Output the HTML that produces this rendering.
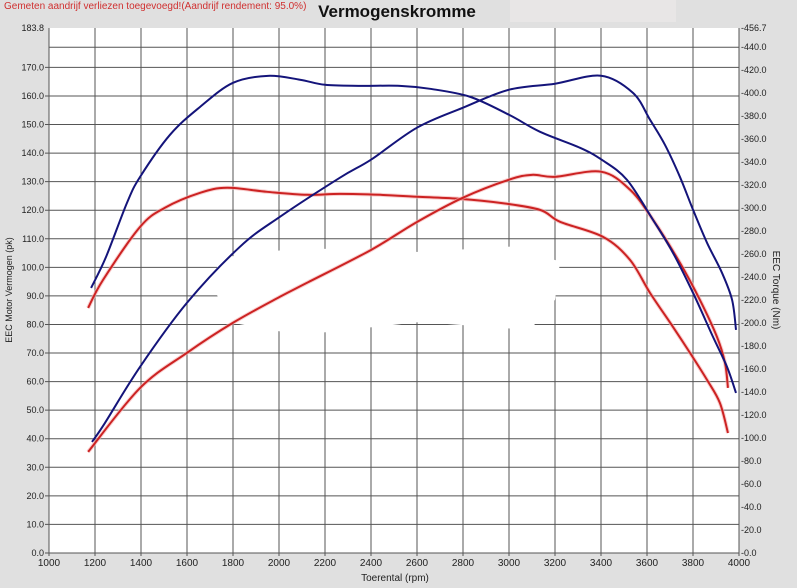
<!DOCTYPE html>
<html><head><meta charset="utf-8"><style>
body{margin:0;background:#e0e0e0;}
svg{display:block;font-family:"Liberation Sans",sans-serif;}
</style></head><body>
<svg id="chart" width="797" height="588">
<rect x="0" y="0" width="797" height="588" fill="#e0e0e0"/>
<rect x="510" y="0" width="166" height="22" fill="#e8e6e6"/>
<text x="4" y="9" font-size="10" fill="#d03030">Gemeten aandrijf verliezen toegevoegd!(Aandrijf rendement: 95.0%)</text>
<text x="397" y="17" font-size="17" font-weight="bold" text-anchor="middle" fill="#111">Vermogenskromme</text>
<rect x="49" y="28" width="690" height="525" fill="#fff"/>
<g id="grid"></g>
<polygon points="218,258 300,248 420,252 520,246 560,262 555,300 530,330 420,322 300,335 228,322 215,290" fill="#fff"/>
<g id="series"></g>
<g id="axes"></g>
<text transform="translate(12,290) rotate(-90)" font-size="9" text-anchor="middle" fill="#222">EEC Motor Vermogen (pk)</text>
<text transform="translate(773,290) rotate(90)" font-size="10" text-anchor="middle" fill="#222">EEC Torque (Nm)</text>
<text x="395" y="581" font-size="10" text-anchor="middle" fill="#222">Toerental (rpm)</text>
</svg>
<script>
const xTicks=[1000,1200,1400,1600,1800,2000,2200,2400,2600,2800,3000,3200,3400,3600,3800,4000];
const leftTicks=[0,10,20,30,40,50,60,70,80,90,100,110,120,130,140,150,160,170];
const rightTicks=[0,20,40,60,80,100,120,140,160,180,200,220,240,260,280,300,320,340,360,380,400,420,440];
const leftMax=183.8, rightMax=456.7;
const torqueBlueRpm=[1183,1248,1339,1396,1526,1657,1800,1952,2091,2200,2352,2526,2657,2830,3000,3135,3309,3404,3513,3626,3713,3800,3887,3948,3987];
const torqueBlueNm=[230.6,257.6,304.6,327.2,363.8,388.1,409.0,415.1,411.7,407.3,406.4,406.4,403.8,396.9,381.2,366.4,352.5,342.0,324.6,289.8,261.1,226.3,188.0,161.9,139.2];
const powerBlueRpm=[1187,1243,1396,1600,1830,2004,2265,2400,2600,2800,3000,3200,3400,3539,3613,3678,3743,3800,3861,3926,3970,3987];
const powerBlueVal=[38.9,45.5,65.2,87.6,107.2,117.7,131.4,137.7,148.9,155.9,162.2,164.3,167.1,161.1,151.7,142.9,131.7,120.2,108.6,98.1,88.6,78.1];
const torqueRedRpm=[1170,1235,1396,1504,1657,1774,1948,2122,2265,2439,2613,2787,2961,3135,3222,3409,3526,3613,3713,3787,3861,3917,3952];
const torqueRedNm=[213.2,237.6,283.7,300.3,313.3,317.7,314.2,311.6,312.4,311.6,309.8,308.1,304.6,298.5,288.1,275.0,255.0,226.3,196.7,174.1,150.6,130.5,104.4];
const powerRedRpm=[1170,1396,1600,1800,2004,2122,2400,2600,2800,3000,3100,3200,3400,3526,3626,3743,3830,3904,3939,3952];
const powerRedVal=[35.4,57.8,70.1,80.6,89.7,94.6,106.1,115.9,124.4,130.7,132.4,131.7,133.5,127.2,116.7,101.6,88.6,75.7,66.6,57.8];

const X0=49,X1=739,Y0=553,Y1=28;
const sx=r=>X0+(r-1000)/3000*(X1-X0);
const syL=v=>Y0-v/leftMax*(Y0-Y1);
const syR=v=>Y0-v/rightMax*(Y0-Y1);
const NS="http://www.w3.org/2000/svg";
function mk(tag,attrs,parent){const e=document.createElementNS(NS,tag);for(const k in attrs)e.setAttribute(k,attrs[k]);parent.appendChild(e);return e;}
const grid=document.getElementById('grid'),axes=document.getElementById('axes'),series=document.getElementById('series');
xTicks.forEach(t=>{
  const l=mk('line',{x1:sx(t),x2:sx(t),y1:Y1,y2:Y0+3,stroke:'#555','stroke-width':1},grid);
  
  
  const tx=mk('text',{x:sx(t),y:566,'font-size':10,'text-anchor':'middle',fill:'#222'},axes);
  tx.textContent=t;
  
  
});
leftTicks.forEach(t=>{
  const l=mk('line',{x1:X0-4,x2:X1,y1:syL(t),y2:syL(t),stroke:'#555','stroke-width':1},grid);
  
  
  const tx=mk('text',{x:X0-5,y:syL(t)+3,'font-size':9,'text-anchor':'end',fill:'#222'},axes);
  tx.textContent=t.toFixed(1);
  
  
});
{const l=mk('line',{x1:X0,x2:X1,y1:syR(440),y2:syR(440),stroke:'#555','stroke-width':1},grid);
 
 
 const tx=mk('text',{x:X0-5,y:Y1+3,'font-size':9,'text-anchor':'end',fill:'#222'},axes);
 tx.textContent=leftMax.toFixed(1);
 
 }
rightTicks.concat([rightMax]).forEach(t=>{
  const tx=mk('text',{x:X1+2,y:syR(t)+3,'font-size':9,fill:'#222'},axes);
  tx.textContent='-'+t.toFixed(1);
  
  
});
function path(xs,ys,fy){
  const p=xs.map((r,i)=>[sx(r),fy(ys[i])]);
  let d='M'+p[0][0]+','+p[0][1];
  for(let i=0;i<p.length-1;i++){
    const a=p[i-1]||p[i],b=p[i],c=p[i+1],e=p[i+2]||c;
    d+=' C'+(b[0]+(c[0]-a[0])/6)+','+(b[1]+(c[1]-a[1])/6)+' '+(c[0]-(e[0]-b[0])/6)+','+(c[1]-(e[1]-b[1])/6)+' '+c[0]+','+c[1];
  }
  return d;
}
function draw(xs,ys,fy,color,glow,name){
  if(glow){const g=mk('path',{d:path(xs,ys,fy),fill:'none',stroke:glow,'stroke-width':4,opacity:0.6},series);
    
    }
  const e=mk('path',{d:path(xs,ys,fy),fill:'none',stroke:color,'stroke-width':2},series);
  
  
}
draw(torqueRedRpm,torqueRedNm,syR,'#cc2222','#f5b0b0','torque-red-line');
draw(powerRedRpm,powerRedVal,syL,'#cc2222','#f5b0b0','power-red-line');
draw(torqueBlueRpm,torqueBlueNm,syR,'#14147a',null,'torque-blue-line');
draw(powerBlueRpm,powerBlueVal,syL,'#14147a',null,'power-blue-line');
</script>
</body></html>
